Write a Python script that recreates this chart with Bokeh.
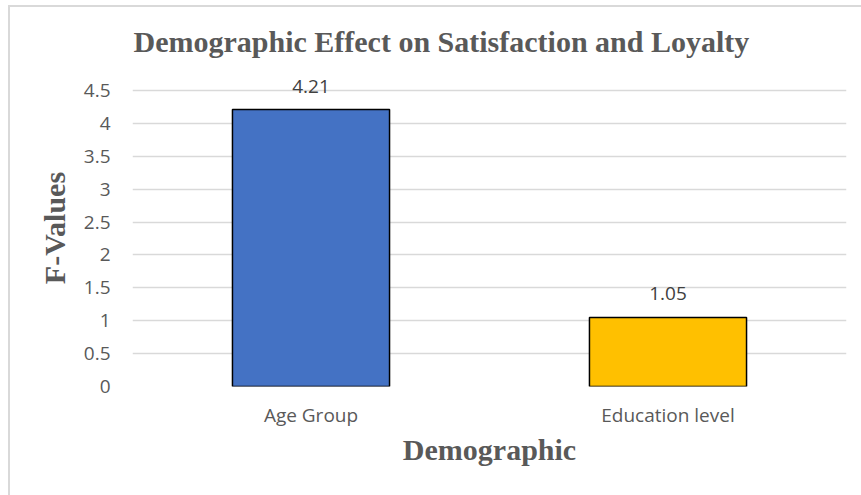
from bokeh.plotting import figure
from bokeh.models import ColumnDataSource, FactorRange, Range1d, FixedTicker, LabelSet, Title
from bokeh.core.properties import value
from bokeh.embed import file_html
from bokeh.resources import INLINE

categories = ["Age Group", "Education level"]
f_values = [4.21, 1.05]
value_labels = ["4.21", "1.05"]
bar_colors = ["#4472C4", "#FFC000"]
y_ticks = [0, 0.5, 1, 1.5, 2, 2.5, 3, 3.5, 4, 4.5]
y_tick_labels = ["0", "0.5", "1", "1.5", "2", "2.5", "3", "3.5", "4", "4.5"]

SERIF = "Liberation Serif"
SANS = "Open Sans"
GRAY = "#595959"

source = ColumnDataSource(dict(cat=categories, val=f_values, lab=value_labels, color=bar_colors))

p = figure(width=861, height=498, x_range=FactorRange(*categories), y_range=Range1d(0, 4.82),
           output_backend="svg", toolbar_location=None,
           min_border_left=122, min_border_right=25, min_border_top=62, min_border_bottom=119,
           styles={"margin-left": "10px", "margin-top": "7px",
                   "box-shadow": "-2px -2px 0 0 #D9D9D9"})
p.title = Title(text="Demographic Effect on Satisfaction and Loyalty", align="left",
                text_font=SERIF, text_font_style="bold", text_font_size="30px",
                text_color=GRAY, standoff=24, offset=1)

p.vbar(x="cat", top="val", width=0.44, source=source, fill_color="color",
       line_color="black", line_width=1.5)

p.add_layout(LabelSet(x="cat", y="val", text="lab", source=source, y_offset=17,
                      text_align="center", text_baseline="alphabetic",
                      text_font=value(SANS), text_font_size=value("19px"),
                      text_color=value("#404040"), level="overlay"))

p.yaxis.ticker = FixedTicker(ticks=y_ticks)
p.yaxis.major_label_overrides = {t: l for t, l in zip(y_ticks, y_tick_labels)}
p.ygrid.ticker = FixedTicker(ticks=y_ticks)

for ax in (p.xaxis, p.yaxis):
    ax.axis_line_color = None
    ax.major_tick_line_color = None
    ax.minor_tick_line_color = None
    ax.major_label_text_font = SANS
    ax.major_label_text_font_size = "19px"
    ax.major_label_text_color = GRAY
    ax.axis_label_text_font = SERIF
    ax.axis_label_text_font_style = "bold"
    ax.axis_label_text_font_size = "30px"
    ax.axis_label_text_color = GRAY

p.xaxis.axis_label = "Demographic"
p.yaxis.axis_label = "F-Values"
p.yaxis.major_label_standoff = 16
p.xaxis.major_label_standoff = 9
p.yaxis.axis_label_standoff = 10
p.xaxis.axis_label_standoff = 2

p.xgrid.grid_line_color = None
p.ygrid.grid_line_color = "#D9D9D9"
p.ygrid.grid_line_width = 1.5
p.outline_line_color = None

html = file_html(p, INLINE)
html = html.replace("<head>", "<head><style>html, body { margin: 0; overflow: hidden; }</style>", 1)
open("out.html", "w").write(html)
